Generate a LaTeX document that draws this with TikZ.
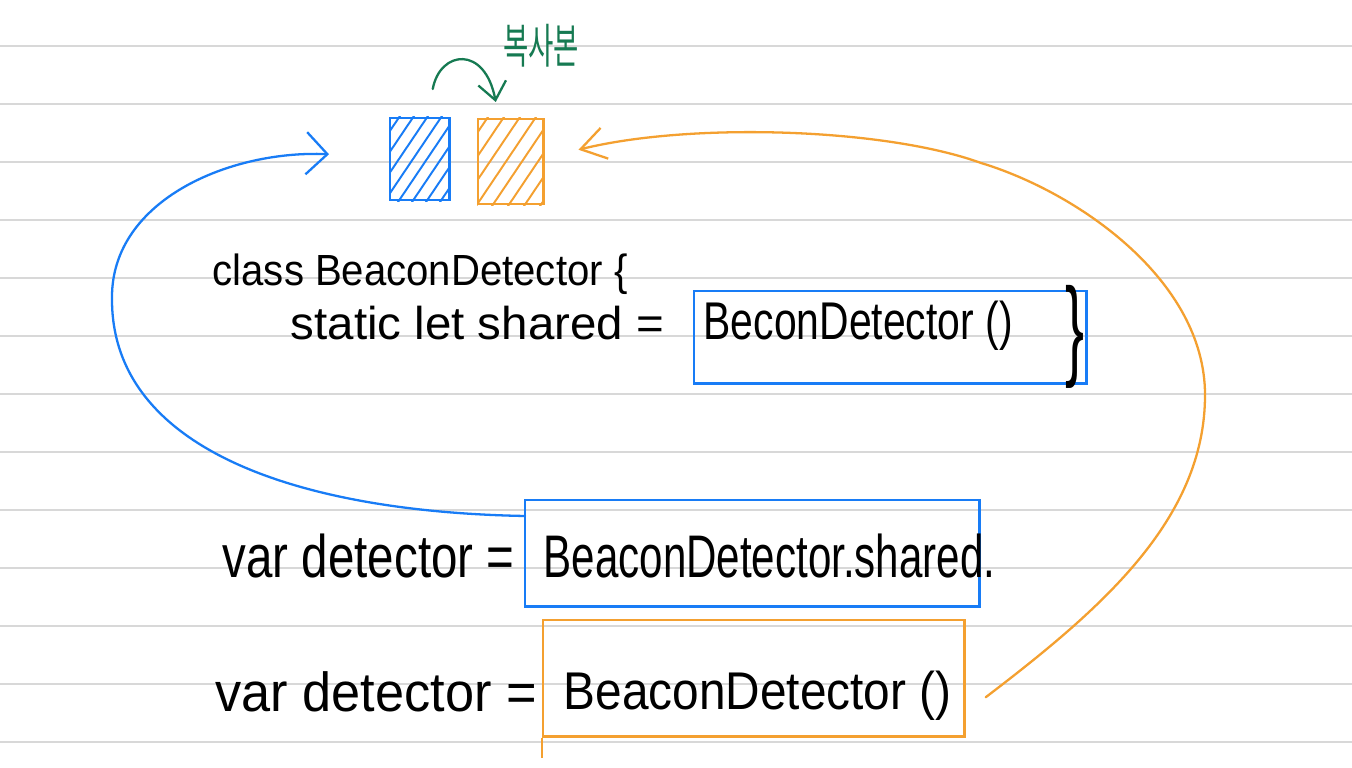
\documentclass[tikz,border=0pt]{standalone}
\usepackage{fontspec}
\setmainfont{Liberation Sans}
\newfontfamily\korfont{Noto Sans CJK KR}
\usepackage{xcolor}
\usetikzlibrary{arrows.meta,calc}

\definecolor{penblue}{RGB}{24,124,246}
\definecolor{penorange}{RGB}{244,160,48}
\definecolor{pengreen}{RGB}{22,122,82}
\definecolor{ruling}{RGB}{216,216,216}

\tikzset{
  ruleline/.style={ruling, line width=0.6pt},
  bluebox/.style={draw=penblue, line width=0.7pt, inner sep=0pt, anchor=north west},
  orangebox/.style={draw=penorange, line width=0.7pt, inner sep=0pt, anchor=north west},
  hatch/.style={line width=0.55pt, line cap=round},
  penline/.style={line width=0.65pt, line cap=round},
  hand/.style={inner sep=0pt, anchor=base west, text=black},
}

\begin{document}
\begin{tikzpicture}[x=0.01cm, y=-0.01cm]
\useasboundingbox (0,0) rectangle (1352,768);
\fill[white] (0,0) rectangle (1352,768);

% ruled paper
\foreach \y in {46,104,...,742}
  \draw[ruleline] (0,\y) -- (1352,\y);

% original and its copy
\node[bluebox, minimum width=0.59cm, minimum height=0.82cm] (blueobj) at (389,117) {};
\node[orangebox, minimum width=0.65cm, minimum height=0.85cm] (copyobj) at (477,118) {};

\begin{scope}
\clip (blueobj.south west) rectangle (blueobj.north east);
\foreach \i in {0,...,8}
  \draw[hatch, penblue] (340+14*\i,205) -- ++(62,-92);
\end{scope}
\begin{scope}
\clip (copyobj.south west) rectangle (copyobj.north east);
\foreach \i in {0,...,7}
  \draw[hatch, penorange] (424+16*\i,212) -- ++(66,-98);
\end{scope}

\node[text=pengreen, inner sep=0pt, font=\korfont\fontsize{13.5}{15}\selectfont] (copylabel) at (541,46) {\scalebox{0.58}[1]{복사본}};

% boxes
\node[bluebox, minimum width=3.92cm, minimum height=0.92cm] (initbox) at (693,290) {};
\node[bluebox, minimum width=4.54cm, minimum height=1.06cm] (sharedbox) at (524,499) {};
\node[orangebox, minimum width=4.21cm, minimum height=1.16cm] (newbox) at (542,619) {};
\draw[penorange, line width=0.7pt] (newbox.south west) -- ++(0,20);

% code
\node[hand, font=\fontsize{12.4}{14}\selectfont] (classline) at (212,286) {\scalebox{0.92}[1]{class BeaconDetector \{}};
\node[hand, font=\fontsize{13.1}{15}\selectfont] (staticline) at (290,340) {\scalebox{1.03}[1]{static let shared =}};
\node[hand, font=\fontsize{15.1}{18}\selectfont] (initcall) at (703,340) {\scalebox{0.77}[1]{BeconDetector ()}};
\node[hand, font=\fontsize{17}{20}\selectfont] (closebrace) at (1065,366) {\scalebox{0.95}[1.85]{\}}};
\node[hand, font=\fontsize{17.1}{20}\selectfont] (varone) at (222,578) {\scalebox{0.79}[1]{var detector =}};
\node[hand, font=\fontsize{17.1}{20}\selectfont] (sharedcall) at (543,578) {\scalebox{0.70}[1]{BeaconDetector.shared.}};
\node[hand, font=\fontsize{15.65}{18}\selectfont] (vartwo) at (215,712) {\scalebox{0.95}[1]{var detector =}};
\node[hand, font=\fontsize{15.1}{18}\selectfont] (newcall) at (563,710) {\scalebox{0.9}[1]{BeaconDetector ()}};

% arrows
\coordinate (gstart) at ($(blueobj.north)+(13,-28)$);
\coordinate (gtip) at ($(copyobj.north)+(-15,-16)$);
\coordinate (bstart) at ($(sharedbox.north west)+(1,17)$);
\coordinate (btip) at ($(blueobj.west)+(-60,-5)$);
\coordinate (ostart) at ($(newbox.east)+(20,19)$);
\coordinate (otip) at ($(copyobj.east)+(34,-12)$);

\draw[penline, pengreen, -{Straight Barb[length=5pt,width=8pt]}] (gstart) .. controls (440,50) and (485,45) .. (gtip);
\draw[penline, penblue, -{Straight Barb[length=6pt,width=12pt]}] (bstart) .. controls (300,512) and (110,450) .. (112,297) .. controls (112,200) and (230,150) .. (btip);
\draw[penline, penorange, -{Straight Barb[length=7pt,width=9pt]}] (ostart) .. controls (1100,610) and (1205,520) .. (1205,395) .. controls (1205,280) and (1077,192) .. (981,163) .. controls (885,128) and (690,122) .. (otip);
\end{tikzpicture}
\end{document}
